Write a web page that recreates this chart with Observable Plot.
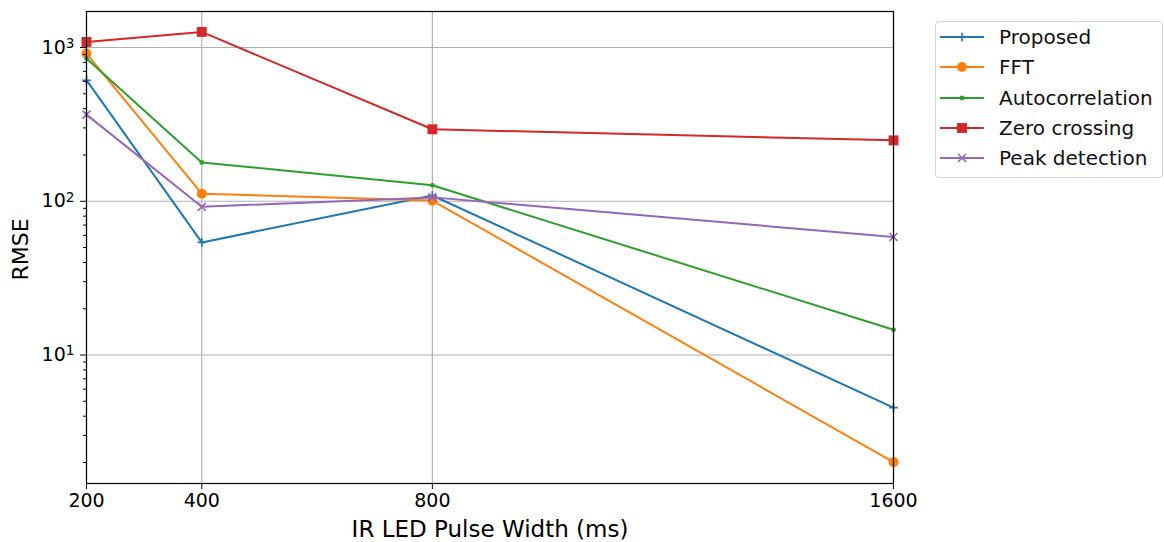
<!DOCTYPE html>
<html>
<head>
<meta charset="utf-8">
<script src="https://cdn.jsdelivr.net/npm/d3@7"></script>
<script src="https://cdn.jsdelivr.net/npm/@observablehq/plot@0.6"></script>
<style>
  body { margin: 0; background: #fff; font-family: "DejaVu Sans", sans-serif; }
  #wrap { position: relative; width: 1164px; height: 542px; }
  #legend {
    position: absolute; left: 935px; top: 21px; width: 228px; height: 157px;
    box-sizing: border-box; border: 1px solid #d6d6d6; border-radius: 4px; background: #fff;
  }
  .row { display: flex; align-items: center; height: 30.3px; }
  .row svg { margin-left: 4px; margin-right: 15px; }
  .row span { font-size: 20px; color: #111; white-space: nowrap; }
</style>
</head>
<body>
<div id="wrap"><div id="legend"></div></div>
<script>
// RMSE of each heart-rate estimation method versus IR LED pulse width
const pulseWidths = [200, 400, 800, 1600];
const seriesNames = ["Proposed", "FFT", "Autocorrelation", "Zero crossing", "Peak detection"];
const proposed = [613, 54, 109, 4.55];
const fft = [914, 112, 101, 2.01];
const autocorrelation = [848, 179, 127, 14.6];
const zeroCrossing = [1087, 1263, 294, 249];
const peakDetection = [366, 92, 106, 58.6];

const seriesColors = ["#1f77b4", "#ff7f0e", "#2ca02c", "#d62728", "#9467bd"];
const seriesSymbols = ["plus", "circle", "circle", "square", "times"];
const symbolSizes = [2.9, 5, 2.4, 5.6, 3.7];

const xTicks = [200, 400, 800, 1600];
const yTicks = [10, 100, 1000];
const yTickExponents = ["1", "2", "3"];
const yMinorTicks = [1, 10, 100, 1000].flatMap(d => [2, 3, 4, 5, 6, 7, 8, 9].map(k => k * d)).filter(v => v > 1.46 && v < 1715);

const seriesValues = [proposed, fft, autocorrelation, zeroCrossing, peakDetection];
const rows = seriesNames.flatMap((name, i) =>
  pulseWidths.map((x, j) => ({series: name, x, y: seriesValues[i][j]}))
);

const isStroked = s => s === "plus" || s === "times";

const seriesMarks = seriesNames.flatMap((name, i) => {
  const data = rows.filter(d => d.series === name);
  const stroked = isStroked(seriesSymbols[i]);
  return [
    Plot.line(data, {x: "x", y: "y", stroke: seriesColors[i], strokeWidth: 2}),
    Plot.dot(data, {
      x: "x", y: "y", symbol: () => seriesSymbols[i], r: symbolSizes[i],
      fill: stroked ? "none" : seriesColors[i],
      stroke: stroked ? seriesColors[i] : "none",
      strokeWidth: stroked ? 1.6 : 0
    })
  ];
});

const chart = Plot.plot({
  width: 1164,
  height: 542,
  marginLeft: 86,
  marginRight: 271,
  marginTop: 11,
  marginBottom: 59,
  style: {fontFamily: "DejaVu Sans", fontSize: "19px", color: "#000", background: "#fff"},
  x: {type: "linear", domain: [200, 1600]},
  y: {type: "log", domain: [1.46, 1715]},
  marks: [
    Plot.gridX(xTicks, {stroke: "#b0b0b0", strokeOpacity: 1, strokeWidth: 1.2}),
    Plot.gridY(yTicks, {stroke: "#b0b0b0", strokeOpacity: 1, strokeWidth: 1.2}),
    ...seriesMarks,
    Plot.frame({stroke: "#000", strokeWidth: 1.2}),
    Plot.axisX({ticks: xTicks, tickSize: 6, tickPadding: 4, tickFormat: d => String(d), label: null, fontSize: 19}),
    Plot.axisY({ticks: yMinorTicks, tickSize: 3, tickFormat: () => "", label: null}),
    Plot.axisY({ticks: yTicks, tickSize: 6, tickPadding: 6, tickFormat: d => "10^" + yTickExponents[yTicks.indexOf(d)], label: null, fontSize: 19}),
    Plot.text(["IR LED Pulse Width (ms)"], {frameAnchor: "bottom", lineAnchor: "middle", dy: 46, fontSize: 23, fill: "#000"}),
    Plot.text(["RMSE"], {frameAnchor: "left", lineAnchor: "middle", textAnchor: "middle", dx: -66, dy: 2, rotate: -90, fontSize: 22, fill: "#000"})
  ]
});

// Render the y tick labels as a base with a raised, smaller exponent
d3.select(chart).selectAll("text").each(function () {
  const m = /^10\^(\d+)$/.exec(this.textContent);
  if (!m) return;
  const node = d3.select(this);
  node.text("");
  node.append("tspan").text("10");
  node.append("tspan").attr("dy", "-0.42em").attr("font-size", "0.72em").text(m[1]);
});
document.getElementById("wrap").prepend(chart);

// Legend: one row per method with its line and marker
const legend = d3.select("#legend");
const symbolTypes = {plus: d3.symbolPlus, circle: d3.symbolCircle, square: d3.symbolSquare, times: d3.symbolTimes};
seriesNames.forEach((name, i) => {
  const row = legend.append("div").attr("class", "row");
  const svg = row.append("svg").attr("width", 44).attr("height", 20);
  svg.append("line").attr("x1", 0).attr("x2", 44).attr("y1", 10).attr("y2", 10)
    .attr("stroke", seriesColors[i]).attr("stroke-width", 2);
  const stroked = isStroked(seriesSymbols[i]);
  svg.append("path")
    .attr("transform", "translate(22,10)")
    .attr("d", d3.symbol(symbolTypes[seriesSymbols[i]], Math.PI * symbolSizes[i] ** 2)())
    .attr("fill", stroked ? "none" : seriesColors[i])
    .attr("stroke", stroked ? seriesColors[i] : "none")
    .attr("stroke-width", 1.6);
  row.append("span").text(name);
});
</script>
</body>
</html>
